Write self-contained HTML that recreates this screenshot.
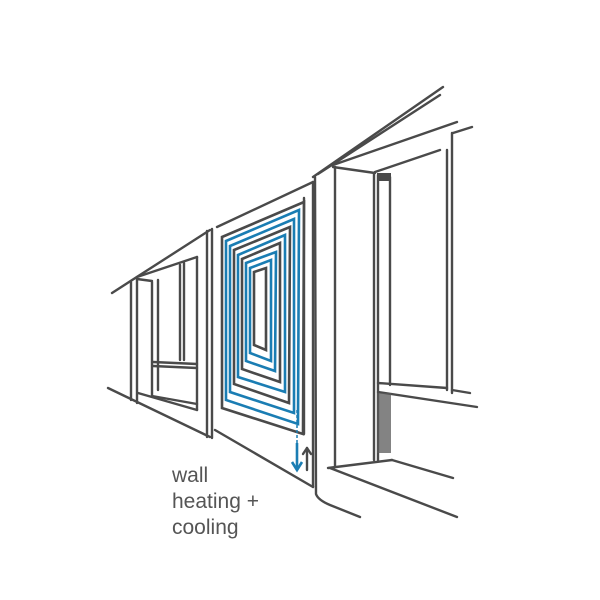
<!DOCTYPE html>
<html><head><meta charset="utf-8"><style>
html,body{margin:0;padding:0;background:#fff;width:600px;height:600px;overflow:hidden}
svg{display:block}
</style></head><body>
<svg width="600" height="600" viewBox="0 0 600 600" xmlns="http://www.w3.org/2000/svg">
<g fill="none" stroke="#4a4a4a" stroke-width="2.4" stroke-linecap="round" stroke-linejoin="round">
<!-- ceiling lines -->
<line x1="112" y1="293" x2="210" y2="230"/>
<line x1="217" y1="227" x2="313" y2="182"/>
<line x1="313" y1="177" x2="443" y2="87"/>
<line x1="318" y1="174" x2="440" y2="95"/>
<line x1="333" y1="165" x2="457" y2="122"/>
<line x1="453" y1="133" x2="472" y2="127"/>
<!-- left window section -->
<line x1="131" y1="282" x2="131" y2="400"/>
<line x1="137" y1="279" x2="137" y2="403"/>
<line x1="137" y1="279" x2="152" y2="281"/>
<line x1="137" y1="277" x2="197" y2="257"/>
<line x1="152" y1="282" x2="152" y2="396"/>
<line x1="158" y1="280" x2="158" y2="390"/>
<line x1="180" y1="265" x2="180" y2="360"/>
<line x1="184" y1="263" x2="184" y2="360"/>
<line x1="197" y1="257" x2="197" y2="410"/>
<line x1="153" y1="362" x2="197" y2="364"/>
<line x1="153" y1="366" x2="197" y2="368"/>
<line x1="138" y1="393" x2="197" y2="410"/>
<line x1="152" y1="396" x2="197" y2="404"/>
<line x1="108" y1="388" x2="210" y2="437"/>
<!-- middle panel -->
<line x1="207" y1="231" x2="207" y2="437"/>
<line x1="212" y1="229" x2="212" y2="438"/>
<line x1="215" y1="430" x2="313" y2="487"/>
<line x1="313" y1="182" x2="313" y2="487"/>
<line x1="304" y1="198" x2="304" y2="434"/>
<!-- pillar -->
<path d="M315 177 L316 494 Q318 500 330 505 L360 517"/>
<line x1="335" y1="167" x2="335" y2="466"/>
<line x1="333" y1="167" x2="375" y2="173"/>
<!-- right window -->
<line x1="374" y1="173" x2="374" y2="460"/>
<line x1="378" y1="175" x2="378" y2="460"/>
<line x1="390" y1="177" x2="390" y2="385"/>
<line x1="375" y1="172" x2="440" y2="150"/>
<line x1="447" y1="150" x2="447" y2="390"/>
<line x1="452" y1="133" x2="452" y2="393"/>
<line x1="452" y1="390" x2="470" y2="393"/>
<line x1="378" y1="383" x2="447" y2="388"/>
<line x1="378" y1="392" x2="477" y2="407"/>
<line x1="328" y1="468" x2="392" y2="460"/>
<line x1="330" y1="468" x2="457" y2="517"/>
<line x1="392" y1="460" x2="453" y2="478"/>
<!-- up arrow -->
<line x1="307" y1="470" x2="307" y2="448"/>
<polyline points="303,454 307,448 311,454"/>
</g>
<!-- hatch -->
<rect x="377" y="393" width="14" height="60" fill="#5a5a5a" opacity="0.75"/>
<rect x="377" y="173" width="14" height="8" fill="#4a4a4a"/>
<!-- nested loops -->
<g fill="none" stroke-width="2.6" stroke-linejoin="miter">
<polygon stroke="#4a4a4a" points="222,237 304,202 303,434 222,408"/>
<polygon stroke="#1a7db3" points="226,241 299,210 298,424 226,400"/>
<polygon stroke="#1a7db3" points="230,246 294,219 294,413 230,392"/>
<polygon stroke="#4a4a4a" points="234,250 290,227 289,403 234,384"/>
<polygon stroke="#1a7db3" points="238,255 285,235 285,392 238,377"/>
<polygon stroke="#4a4a4a" points="242,259 280,243 280,382 242,369"/>
<polygon stroke="#1a7db3" points="246,263 276,252 275,371 246,361"/>
<polygon stroke="#1a7db3" points="250,268 271,260 271,361 250,353"/>
<polygon stroke="#4a4a4a" points="254,272 266,268 266,350 254,345"/>
</g>
<line x1="297" y1="410" x2="297" y2="465" stroke="#1a7db3" stroke-width="1.5" stroke-dasharray="3,2"/>
<line x1="297" y1="443" x2="297" y2="468" stroke="#1a7db3" stroke-width="2.6"/>
<polyline points="292,462 297,470 302,462" fill="none" stroke="#1a7db3" stroke-width="2.6"/>
<g font-family="'Liberation Sans', sans-serif" font-size="21" fill="#555">
<text x="172" y="482">wall</text>
<text x="172" y="508">heating +</text>
<text x="172" y="534">cooling</text>
</g>
</svg>
</body></html>
